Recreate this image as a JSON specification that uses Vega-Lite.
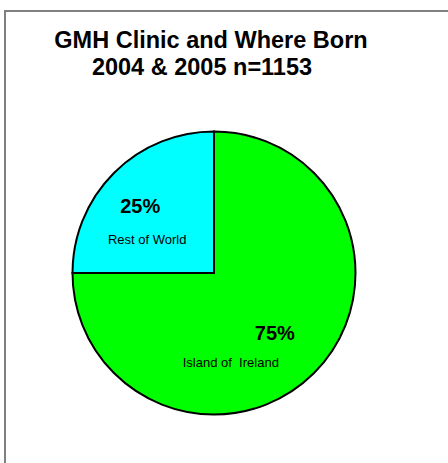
{
  "$schema": "https://vega.github.io/schema/vega-lite/v6.json",
  "width": 500,
  "height": 524,
  "autosize": {"type": "none"},
  "padding": {"left": 5, "top": 11, "right": 0, "bottom": 0},
  "background": "white",
  "config": {
    "view": {"stroke": "#808080", "strokeWidth": 2},
    "font": "Liberation Sans"
  },
  "title": {
    "text": ["GMH Clinic and Where Born", "2004 & 2005 n=1153\u2800"],
    "anchor": "middle",
    "dx": -44,
    "offset": 0,
    "dy": 69,
    "baseline": "top",
    "fontSize": 23.5,
    "fontWeight": "bold",
    "lineHeight": 27,
    "color": "black",
    "font": "Liberation Sans"
  },
  "data": {
    "values": [
      {"region": "Island of Ireland", "share": 75, "pct": "75%", "name": "Island of\u00a0 Ireland"},
      {"region": "Rest of World", "share": 25, "pct": "25%", "name": "Rest of World"}
    ]
  },
  "layer": [
    {
      "mark": {"type": "rect", "fill": "transparent", "stroke": "#808080", "strokeWidth": 2},
      "encoding": {}
    },
    {
      "mark": {"type": "arc", "outerRadius": 141.5, "stroke": "black", "strokeWidth": 2, "xOffset": -41},
      "encoding": {
        "theta": {"field": "share", "type": "quantitative", "stack": true},
        "order": {"field": "region", "type": "ordinal"},
        "color": {
          "field": "region",
          "type": "nominal",
          "scale": {"domain": ["Island of Ireland", "Rest of World"], "range": ["#00FF00", "#00FFFF"]},
          "legend": null
        }
      }
    },
    {
      "mark": {"type": "text", "radius": 86, "xOffset": -41, "dx": -13, "dy": -5, "fontSize": 20, "fontWeight": "bold", "color": "black"},
      "encoding": {
        "theta": {"field": "share", "type": "quantitative", "stack": true},
        "order": {"field": "region", "type": "ordinal"},
        "text": {"condition": {"test": "datum.region == 'Rest of World'", "field": "pct"}, "value": ""}
      }
    },
    {
      "mark": {"type": "text", "radius": 86, "xOffset": -41, "dx": -6, "dy": 28, "fontSize": 13, "color": "black"},
      "encoding": {
        "theta": {"field": "share", "type": "quantitative", "stack": true},
        "order": {"field": "region", "type": "ordinal"},
        "text": {"condition": {"test": "datum.region == 'Rest of World'", "field": "name"}, "value": ""}
      }
    },
    {
      "mark": {"type": "text", "radius": 86, "xOffset": -41, "dx": 0, "dy": 0, "fontSize": 20, "fontWeight": "bold", "color": "black"},
      "encoding": {
        "theta": {"field": "share", "type": "quantitative", "stack": true},
        "order": {"field": "region", "type": "ordinal"},
        "text": {"condition": {"test": "datum.region == 'Island of Ireland'", "field": "pct"}, "value": ""}
      }
    },
    {
      "mark": {"type": "text", "radius": 86, "xOffset": -41, "dx": -44, "dy": 29, "fontSize": 13, "color": "black"},
      "encoding": {
        "theta": {"field": "share", "type": "quantitative", "stack": true},
        "order": {"field": "region", "type": "ordinal"},
        "text": {"condition": {"test": "datum.region == 'Island of Ireland'", "field": "name"}, "value": ""}
      }
    }
  ]
}
